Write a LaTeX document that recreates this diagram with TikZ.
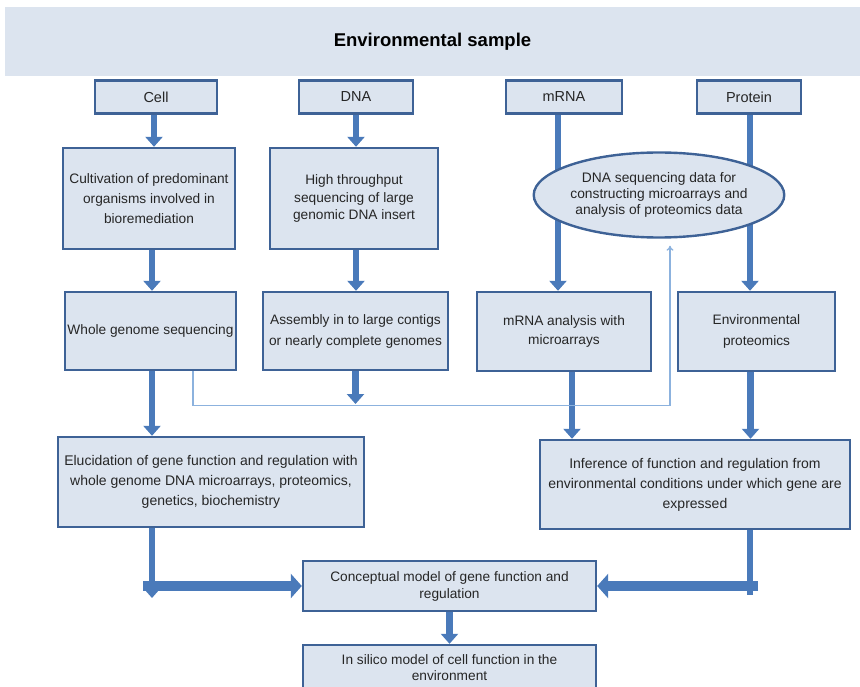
\documentclass[tikz,border=0pt]{standalone}
\usepackage{fontspec}
\setmainfont{Liberation Sans}
\usetikzlibrary{arrows.meta}
\usetikzlibrary{shapes.geometric}
\definecolor{boxfill}{RGB}{220,228,239}
\definecolor{boxline}{RGB}{62,98,150}
\definecolor{flow}{RGB}{74,122,186}
\definecolor{feed}{RGB}{140,178,222}

\begin{document}
\begin{tikzpicture}[x=1pt, y=-1pt]
                \tikzstyle{box} = [draw=boxline, fill=boxfill, line width=2.4pt, align=center, text=black!85, font=\fontsize{13.7}{19}\selectfont, inner sep=2pt]
                \tikzstyle{flow} = [color=flow, line width=6.5pt, -{Triangle[width=17pt, length=10pt]}]
                \tikzstyle{wide} = [color=flow, line width=10pt, -{Triangle[width=24pt, length=11pt]}]
                \tikzstyle{feed} = [color=feed, line width=1.3pt, -{To[length=5pt, width=7pt]}]
                \useasboundingbox (0, 0) rectangle (860, 687);
                \node[fill=boxfill, minimum width=855pt, minimum height=69pt, font=\fontsize{18.5}{20}\selectfont\bfseries] (sample) at (432.5, 41.5) {Environmental sample};
                \node[box, minimum width=122pt, minimum height=33pt, font=\fontsize{14.5}{18}\selectfont] (cell) at (156, 97) {Cell};
                \node[box, minimum width=114pt, minimum height=33pt, font=\fontsize{14.5}{18}\selectfont] (dna) at (356, 97) {DNA};
                \node[box, minimum width=116pt, minimum height=33pt, font=\fontsize{14.5}{18}\selectfont] (mrna) at (564, 97) {mRNA};
                \node[box, minimum width=104pt, minimum height=33pt, font=\fontsize{14.5}{18}\selectfont] (protein) at (749, 97) {Protein};
                \node[box, minimum width=172pt, minimum height=101pt, font=\fontsize{13.7}{20}\selectfont] (cultivation) at (149, 198.5) {Cultivation of predominant\\organisms involved in\\bioremediation};
                \node[box, minimum width=168pt, minimum height=101pt, font=\fontsize{13.7}{17.5}\selectfont] (throughput) at (354, 198.5) {High throughput\\sequencing of large\\genomic DNA insert};
                \node[box, minimum width=171pt, minimum height=78pt] (genome) at (150.5, 331) {Whole genome sequencing};
                \node[box, minimum width=185pt, minimum height=78pt, font=\fontsize{13.7}{21}\selectfont] (assembly) at (355.5, 331) {Assembly in to large contigs\\or nearly complete genomes};
                \node[box, minimum width=174pt, minimum height=79pt] (arrays) at (564, 331.5) {mRNA analysis with\\microarrays};
                \node[box, minimum width=157pt, minimum height=79pt, font=\fontsize{13.7}{21}\selectfont] (proteomics) at (756.5, 331.5) {Environmental\\proteomics};
                \node[box, minimum width=306pt, minimum height=90pt, font=\fontsize{14}{20}\selectfont] (elucidation) at (211, 482) {Elucidation of gene function and regulation with\\whole genome DNA microarrays, proteomics,\\genetics, biochemistry};
                \node[box, minimum width=310pt, minimum height=89pt, font=\fontsize{14}{20}\selectfont] (inference) at (695, 484.5) {Inference of function and regulation from\\environmental conditions under which gene are\\expressed};
                \node[box, minimum width=293pt, minimum height=50pt, font=\fontsize{13.7}{17}\selectfont] (concept) at (449.5, 586) {Conceptual model of gene function and\\regulation};
                \node[box, minimum width=293pt, minimum height=46pt, font=\fontsize{13.7}{16}\selectfont] (silico) at (449.5, 668) {In silico model of cell function in the\\environment};
                \coordinate (bus) at (356, 404);
                \coordinate (left) at (152, 598);
                \coordinate (right) at (750, 590);
                \draw[flow] ([xshift=-2]cell.south) -- ([xshift=-2]cell.south |- cultivation.north);
                \draw[flow] ([xshift=3]cultivation.south) -- ([xshift=3]cultivation.south |- genome.north);
                \draw[flow] ([xshift=1.5]genome.south) -- ([xshift=1.5]genome.south |- elucidation.north);
                \draw[flow] (dna.south) -- (dna.south |- throughput.north);
                \draw[flow] ([xshift=2]throughput.south) -- ([xshift=2]throughput.south |- assembly.north);
                \draw[flow] (assembly.south) -- (assembly.south |- bus);
                \draw[flow] ([xshift=-6]mrna.south) -- ([xshift=-6]mrna.south |- arrays.north);
                \draw[flow] ([xshift=1]protein.south) -- ([xshift=1]protein.south |- proteomics.north);
                \draw[flow] ([xshift=8]arrays.south) -- ([xshift=8]arrays.south |- inference.north);
                \draw[flow] ([xshift=-6]proteomics.south) -- ([xshift=-6]proteomics.south |- inference.north);
                \draw[flow] (elucidation.south -| left) -- (left);
                \draw[wide] ([xshift=-9]left |- concept.west) -- (concept.west);
                \draw[color=flow, line width=6.5pt] (inference.south -| right) -- ([yshift=-5]right);
                \draw[wide] ([xshift=8]right |- concept.east) -- (concept.east);
                \draw[flow] (concept.south) -- (silico.north);
                \node[ellipse, draw=boxline, fill=boxfill, line width=2.4pt, align=center, text=black!85, font=\fontsize{13.8}{16}\selectfont, minimum width=248pt, minimum height=85pt, inner sep=0pt] (data) at (659, 195) {DNA sequencing data for\\constructing microarrays and\\analysis of proteomics data};
                \draw[feed] ([xshift=42.5]genome.south) -- ++(0, 34) -| ([xshift=11, yshift=-7]data.south);
            \end{tikzpicture}
\end{document}
